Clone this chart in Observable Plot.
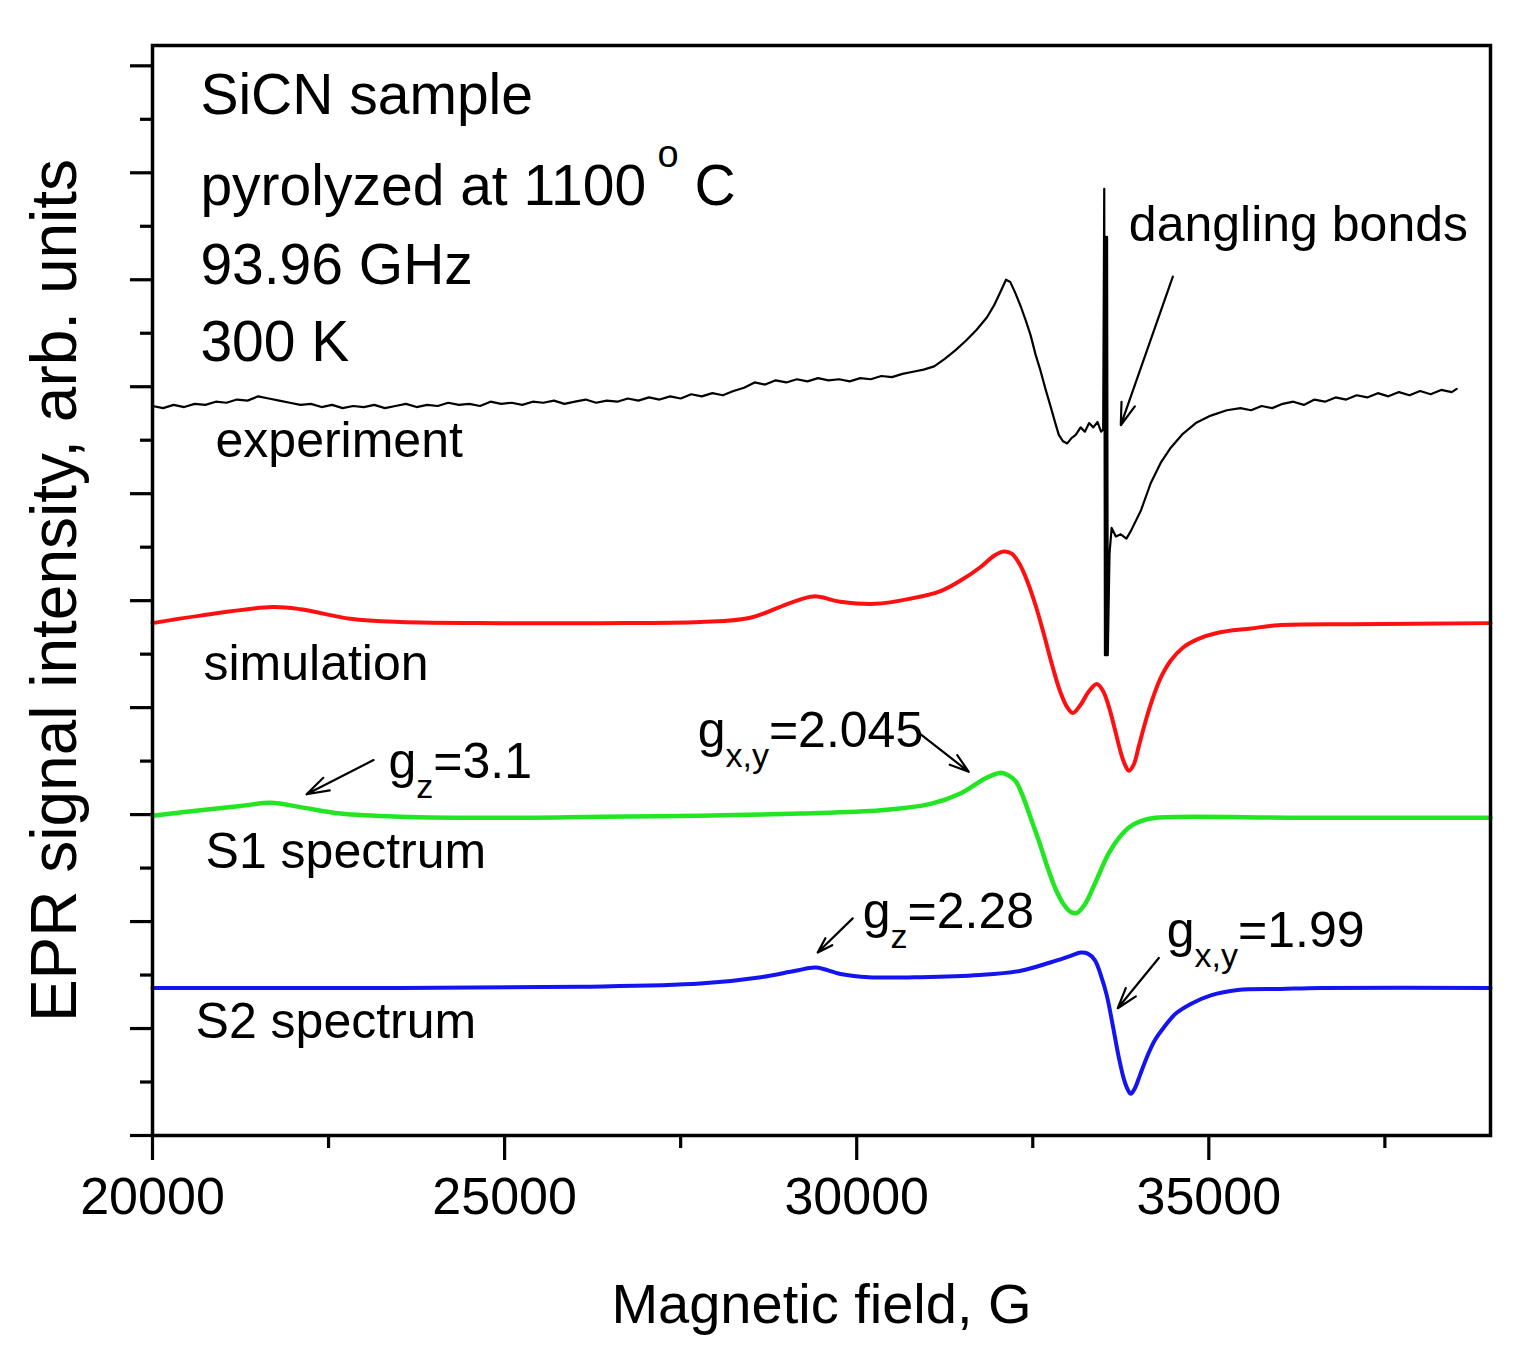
<!DOCTYPE html>
<html><head><meta charset="utf-8">
<script src="https://cdn.jsdelivr.net/npm/d3@7"></script>
<script src="https://cdn.jsdelivr.net/npm/@observablehq/plot@0.6"></script>
<style>body{margin:0;background:#fff;} #chart{width:1521px;height:1358px;}</style>
</head><body><div id="chart"></div>
<script>
// ---- Data (magnetic field in G, intensity in arbitrary offset units) ----
const xMajor = [20000, 25000, 30000, 35000];
const xMinor = [22500, 27500, 32500, 37500];
const yMajor = [0, 1, 2, 3, 4, 5, 6, 7, 8, 9, 10];
const yMinor = [0.5, 1.5, 2.5, 3.5, 4.5, 5.5, 6.5, 7.5, 8.5, 9.5];

const expField = [
  20000,20150,20300,20450,20600,20750,20900,21050,21200,21350,
  21500,21650,21800,21950,22100,22250,22400,22550,22700,22850,
  23000,23150,23300,23450,23600,23750,23900,24050,24200,24350,
  24500,24650,24800,24950,25100,25250,25400,25550,25700,25850,
  26000,26150,26300,26450,26600,26750,26900,27050,27200,27350,
  27500,27650,27800,27950,28100,28250,28400,28550,28700,28850,
  29000,29150,29300,29450,29600,29750,29900,30050,30200,30350,
  30500,30650,30800,30950,31100,31250,31400,31550,31700,31850,
  31950,32050,32120,32180,32250,32330,32400,32470,32540,32610,
  32680,32760,32820,32870,32930,32990,33050,33110,33180,33240,
  33300,33360,33420,33470,33500,33515,33525,33535,33545,33555,
  33565,33590,33620,33680,33750,33830,33892,34034,34176,34318,
  34460,34631,34815,35028,35256,35450,
  35600,35750,35900,36050,36200,36350,36500,36650,36800,36950,
  37100,37250,37400,37550,37700,37850,38000,38150,38300,38450,
  38520];
const expSignal = [
  6.82,6.80,6.83,6.81,6.84,6.83,6.86,6.85,6.88,6.87,
  6.91,6.89,6.87,6.85,6.83,6.84,6.81,6.83,6.80,6.82,
  6.81,6.83,6.80,6.82,6.84,6.81,6.83,6.82,6.85,6.83,
  6.84,6.82,6.86,6.84,6.85,6.83,6.86,6.85,6.87,6.84,
  6.86,6.88,6.85,6.87,6.86,6.89,6.87,6.90,6.88,6.91,
  6.89,6.93,6.91,6.94,6.92,6.96,6.99,7.04,7.02,7.06,
  7.04,7.07,7.05,7.08,7.06,7.07,7.05,7.08,7.07,7.10,
  7.09,7.12,7.14,7.16,7.19,7.26,7.34,7.43,7.53,7.65,
  7.76,7.90,8.00,7.98,7.88,7.75,7.62,7.48,7.30,7.15,
  6.98,6.80,6.66,6.55,6.49,6.47,6.52,6.55,6.62,6.58,
  6.66,6.62,6.67,6.58,6.60,8.85,4.49,8.40,4.49,8.40,
  4.49,5.44,5.68,5.60,5.62,5.58,5.65,5.84,6.10,6.29,
  6.43,6.56,6.66,6.73,6.78,6.80,
  6.78,6.82,6.80,6.84,6.86,6.83,6.88,6.86,6.90,6.88,
  6.92,6.90,6.94,6.91,6.95,6.92,6.96,6.93,6.97,6.95,
  6.98];

const simField = [20000,20680,21700,22100,22810,23520,24940,26360,27780,28490,
  29060,29390,29770,30260,30770,31190,31480,31750,31950,32088,
  32202,32315,32429,32543,32656,32770,32884,32983,33068,33182,
  33295,33409,33494,33580,33665,33750,33807,33864,33935,34006,
  34105,34205,34318,34460,34631,34844,35128,35597,35980,37020,
  39000];
const simSignal = [4.79,4.86,4.94,4.92,4.83,4.80,4.79,4.79,4.80,4.84,
  4.98,5.04,4.99,4.97,5.02,5.09,5.19,5.31,5.42,5.46,
  5.44,5.34,5.17,4.95,4.69,4.41,4.16,4.01,3.95,4.03,
  4.15,4.22,4.16,4.01,3.80,3.58,3.47,3.41,3.47,3.64,
  3.88,4.09,4.28,4.44,4.56,4.64,4.70,4.74,4.77,4.78,
  4.79];

const s1Field = [20000,20680,21250,21680,22100,22670,23520,24940,26360,27780,
  29200,30340,31050,31480,31830,32031,32145,32259,32372,32486,
  32599,32713,32827,32940,33040,33125,33239,33352,33466,33580,
  33722,33864,34034,34247,36310,39000];
const s1Signal = [2.99,3.04,3.08,3.11,3.07,3.01,2.98,2.97,2.98,2.99,
  3.01,3.04,3.10,3.20,3.34,3.39,3.37,3.31,3.15,2.94,
  2.73,2.50,2.30,2.16,2.09,2.08,2.16,2.31,2.48,2.64,
  2.78,2.88,2.94,2.97,2.97,2.97];

const s2Field = [20000,23520,26090,27780,28640,29130,29420,29770,30170,30910,
  31750,32330,32760,33040,33182,33281,33381,33466,33551,33636,
  33722,33793,33849,33892,33949,34020,34119,34233,34361,34531,
  34744,35028,35412,36023,36591,39000];
const s2Signal = [1.38,1.38,1.39,1.42,1.48,1.54,1.57,1.51,1.48,1.48,
  1.50,1.54,1.62,1.68,1.71,1.70,1.64,1.50,1.31,1.03,
  0.73,0.53,0.43,0.39,0.44,0.56,0.73,0.89,1.01,1.14,
  1.23,1.31,1.36,1.37,1.38,1.38];

// annotations (text, field, baseline intensity)
const headText = ["SiCN sample", "pyrolyzed at 1100\u2009^{o} C", "93.96 GHz", "300 K"];
const headField = [20680, 20680, 20680, 20680];
const headSignal = [9.55, 8.70, 7.96, 7.24];

const noteText = ["experiment", "simulation", "S1 spectrum", "S2 spectrum", "dangling bonds",
  "g_{z}=3.1", "g_{x,y}=2.045", "g_{z}=2.28", "g_{x,y}=1.99"];
const noteField = [20895, 20724, 20753, 20611, 33864, 23352, 27741, 30085, 34403];
const noteSignal = [6.34, 4.26, 2.50, 0.91, 8.36, 3.34, 3.63, 1.94, 1.76];

const arrowX1 = [34489, 23139, 30909, 29943, 34290];
const arrowY1 = [8.03, 3.51, 3.75, 2.03, 1.66];
const arrowX2 = [33750, 22188, 31591, 29446, 33707];
const arrowY2 = [6.64, 3.19, 3.40, 1.71, 1.19];

// ---- Build ----
const rows = (xs, ys) => xs.map((x, i) => ({x, y: ys[i]}));
const font = "'Liberation Sans', Arial, sans-serif";

const plot = Plot.plot({
  width: 1521, height: 1358,
  marginLeft: 152, marginRight: 31, marginTop: 45, marginBottom: 223,
  style: {fontFamily: font, background: "white", color: "black"},
  x: {domain: [20000, 39000]},
  y: {domain: [0, 10.19]},
  marks: [
    Plot.axisX({ticks: xMajor, tickSize: 25, tickPadding: 17, strokeWidth: 3.2, fontSize: 52, tickFormat: d => String(d), label: null}),
    Plot.axisX({ticks: xMinor, tickSize: 13, strokeWidth: 3.2, tickFormat: () => "", label: null}),
    Plot.axisY({ticks: yMajor, tickSize: 22, strokeWidth: 3.2, tickFormat: () => "", label: null}),
    Plot.axisY({ticks: yMinor, tickSize: 12, strokeWidth: 3.2, tickFormat: () => "", label: null}),
    Plot.line(rows(s2Field, s2Signal), {x: "x", y: "y", stroke: "#1414f0", strokeWidth: 4, curve: "catmull-rom"}),
    Plot.line(rows(s1Field, s1Signal), {x: "x", y: "y", stroke: "#22e622", strokeWidth: 4.5, curve: "catmull-rom"}),
    Plot.line(rows(simField, simSignal), {x: "x", y: "y", stroke: "#ff1010", strokeWidth: 4, curve: "catmull-rom"}),
    Plot.line(rows(expField, expSignal), {x: "x", y: "y", stroke: "black", strokeWidth: 2.2}),
    Plot.frame({stroke: "black", strokeWidth: 3.5}),
    Plot.arrow(d3.range(arrowX1.length), {
      x1: i => arrowX1[i], y1: i => arrowY1[i], x2: i => arrowX2[i], y2: i => arrowY2[i],
      stroke: "black", strokeWidth: 2.2, headLength: 16, headAngle: 35
    }),
    Plot.text(d3.range(headText.length), {
      x: i => headField[i], y: i => headSignal[i], text: i => headText[i],
      textAnchor: "start", lineAnchor: "bottom", fontSize: 57, fill: "black"
    }),
    Plot.text(d3.range(noteText.length), {
      x: i => noteField[i], y: i => noteSignal[i], text: i => noteText[i],
      textAnchor: "start", lineAnchor: "bottom", fontSize: 50, fill: "black"
    }),
    Plot.text(["Magnetic field, G"], {text: d => d, frameAnchor: "bottom", dy: 187, lineAnchor: "bottom", fontSize: 56, fill: "black"}),
    Plot.text(["EPR signal intensity, arb. units"], {text: d => d, frameAnchor: "left", dx: -97, rotate: -90, lineAnchor: "middle", textAnchor: "middle", fontSize: 64, fill: "black"})
  ]
});

// sub/superscript markup -> tspans
const NS = "http://www.w3.org/2000/svg";
plot.querySelectorAll("text").forEach(t => {
  const s = t.textContent;
  if (!/[_^]\{/.test(s)) return;
  const parts = s.split(/([_^]\{[^}]*\})/);
  t.textContent = "";
  let shift = 0;
  for (const seg of parts) {
    if (!seg) continue;
    const span = document.createElementNS(NS, "tspan");
    let target = 0, content = seg, size = null;
    if (seg.startsWith("_{")) { target = 20; content = seg.slice(2, -1); size = "34px"; }
    else if (seg.startsWith("^{")) { target = -38; content = seg.slice(2, -1); size = "38px"; }
    span.setAttribute("dy", target - shift);
    shift = target;
    if (size) span.setAttribute("font-size", size);
    span.textContent = content;
    t.appendChild(span);
  }
});

document.getElementById("chart").append(plot);
</script>
</body></html>
